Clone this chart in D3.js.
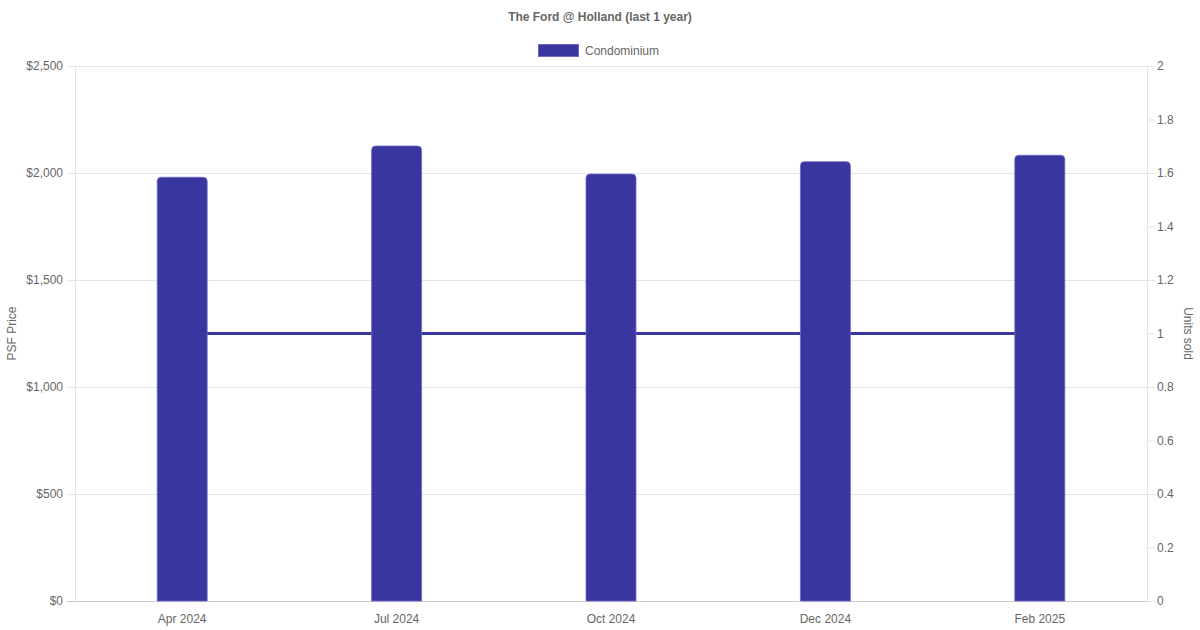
<!DOCTYPE html>
<html><head><meta charset="utf-8">
<script src="https://cdn.jsdelivr.net/npm/d3@7/dist/d3.min.js"></script>
<style>body{margin:0;background:#fff}svg{display:block;font-family:"Liberation Sans",Arial,Helvetica,sans-serif}</style>
</head><body><svg id="c" width="1200" height="630"></svg>
<script>
const categories = ["Apr 2024","Jul 2024","Oct 2024","Dec 2024","Feb 2025"];
const psfValues = [1980, 2126, 1995, 2053, 2083];
const unitsSold = [1, 1, 1, 1, 1];
const leftTicks = [0, 500, 1000, 1500, 2000, 2500];
const rightTicks = [0, 0.2, 0.4, 0.6, 0.8, 1, 1.2, 1.4, 1.6, 1.8, 2];
const title = "The Ford @ Holland (last 1 year)";
const seriesName = "Condominium";

const W = 1200, H = 630;
const m = {l: 75, r: 53, t: 66, b: 29};
const svg = d3.select("#c");
const col = "#3a36a0", txt = "#666", grid = "#e5e5e5";

const x = d3.scaleBand().domain(categories).range([m.l, W - m.r]);
const yL = d3.scaleLinear().domain([0, 2500]).range([H - m.b, m.t]);
const yR = d3.scaleLinear().domain([0, 2]).range([H - m.b, m.t]);

// gridlines
svg.append("g").selectAll("line").data(leftTicks).join("line")
  .attr("x1", m.l - 8).attr("x2", W - m.r)
  .attr("y1", d => yL(d) + 0.5).attr("y2", d => yL(d) + 0.5)
  .attr("stroke", (d) => d === 0 ? "#ccc" : grid).attr("stroke-width", 1);
// left/right vertical borders
svg.append("line").attr("x1", m.l + 0.5).attr("x2", m.l + 0.5).attr("y1", m.t).attr("y2", H - m.b)
  .attr("stroke", grid);
svg.append("line").attr("x1", W - m.r + 0.5).attr("x2", W - m.r + 0.5).attr("y1", m.t).attr("y2", H - m.b)
  .attr("stroke", grid);
// right tick marks
svg.append("g").selectAll("line").data(rightTicks).join("line")
  .attr("x1", W - m.r).attr("x2", W - m.r + 8)
  .attr("y1", d => yR(d) + 0.5).attr("y2", d => yR(d) + 0.5)
  .attr("stroke", grid);

// left labels
svg.append("g").selectAll("text").data(leftTicks).join("text")
  .attr("x", m.l - 12).attr("y", d => yL(d)).attr("dy", "0.35em")
  .attr("text-anchor", "end").attr("fill", txt).attr("font-size", 12)
  .text(d => "$" + d3.format(",")(d));
// right labels
svg.append("g").selectAll("text").data(rightTicks).join("text")
  .attr("x", W - m.r + 10).attr("y", d => yR(d)).attr("dy", "0.35em")
  .attr("text-anchor", "start").attr("fill", txt).attr("font-size", 12)
  .text(d => d3.format("~g")(d));
// x labels
svg.append("g").selectAll("text").data(categories).join("text")
  .attr("x", d => x(d) + x.bandwidth() / 2).attr("y", H - m.b + 18).attr("dy", "0.35em")
  .attr("text-anchor", "middle").attr("fill", txt).attr("font-size", 12)
  .text(d => d);

// line (drawn behind bars)
const line = d3.line().x((d, i) => x(categories[i]) + x.bandwidth() / 2).y(d => yR(d));
svg.append("path").datum(unitsSold).attr("d", line)
  .attr("fill", "none").attr("stroke", col).attr("stroke-width", 3);

// bars with rounded top
const bw = 50, r = 4;
svg.append("g").selectAll("path").data(psfValues).join("path")
  .attr("d", (d, i) => {
    const cx = x(categories[i]) + x.bandwidth() / 2;
    const x0 = cx - bw / 2, x1 = cx + bw / 2, y0 = yL(d), yb = yL(0);
    return `M${x0},${yb}V${y0 + r}Q${x0},${y0} ${x0 + r},${y0}H${x1 - r}Q${x1},${y0} ${x1},${y0 + r}V${yb}Z`;
  })
  .attr("fill", col).attr("stroke", "#6c68c4").attr("stroke-width", 0.8);

// title
svg.append("text").attr("x", W / 2).attr("y", 17).attr("dy", "0.35em")
  .attr("text-anchor", "middle").attr("fill", txt).attr("font-size", 12).attr("font-weight", "bold")
  .text(title);
// legend
svg.append("rect").attr("x", 538.5).attr("y", 44.5).attr("width", 40).attr("height", 12)
  .attr("fill", col).attr("stroke", "#6c68c4").attr("stroke-width", 1);
svg.append("text").attr("x", 585).attr("y", 50.5).attr("dy", "0.35em")
  .attr("fill", txt).attr("font-size", 12).text(seriesName);
// axis titles
svg.append("text").attr("transform", `translate(12,${(m.t + H - m.b) / 2}) rotate(-90)`)
  .attr("dy", "0.35em").attr("text-anchor", "middle").attr("fill", txt).attr("font-size", 12).text("PSF Price");
svg.append("text").attr("transform", `translate(1188,${(m.t + H - m.b) / 2}) rotate(90)`)
  .attr("dy", "0.35em").attr("text-anchor", "middle").attr("fill", txt).attr("font-size", 12).text("Units sold");
</script></body></html>
